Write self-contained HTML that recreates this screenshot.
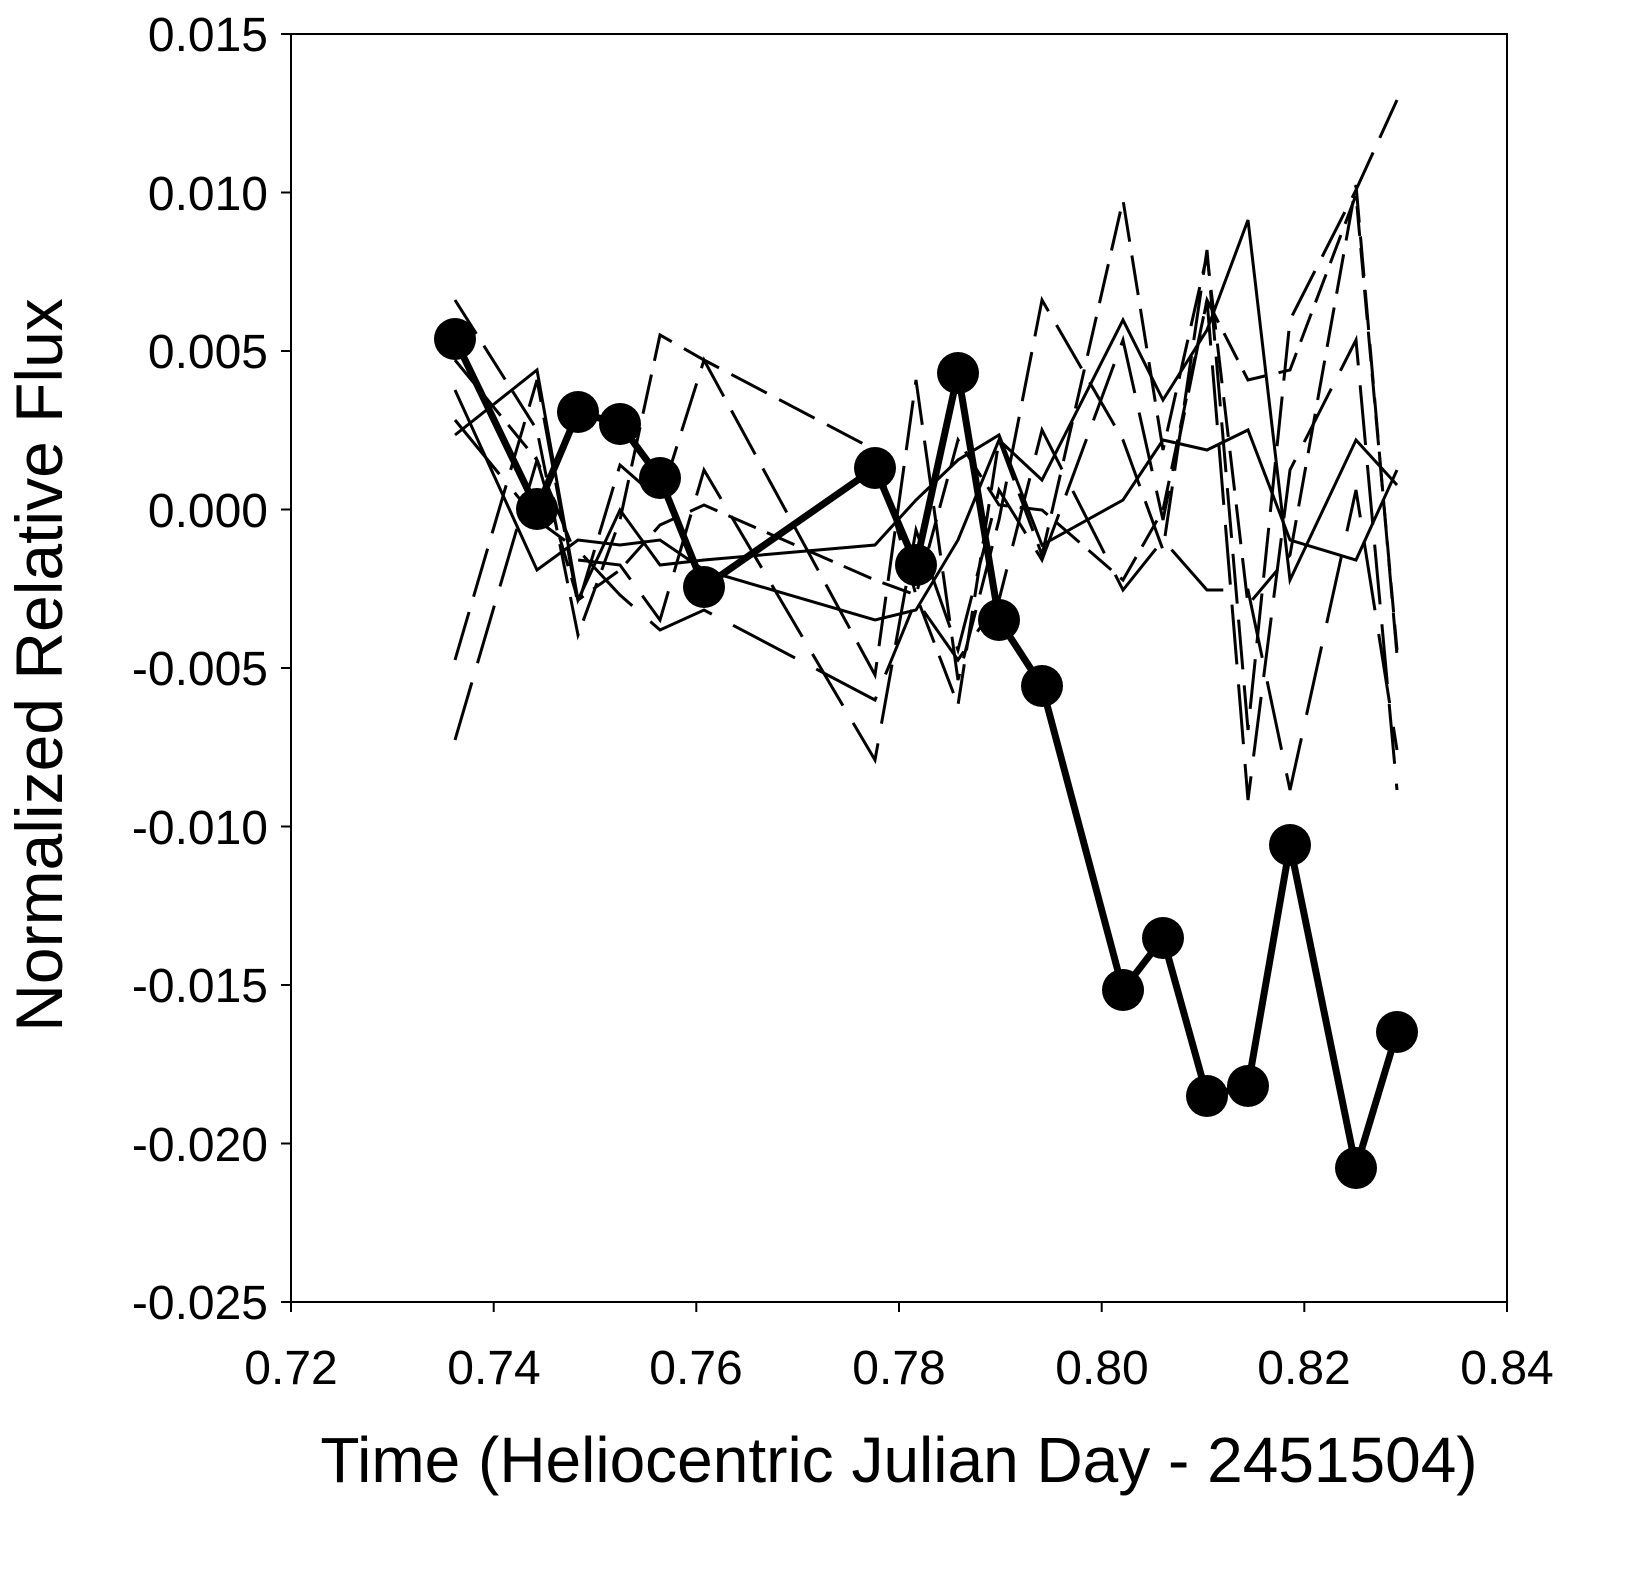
<!DOCTYPE html>
<html><head><style>
html,body{margin:0;padding:0;background:#fff;}
svg text{font-family:"Liberation Sans",sans-serif;fill:#000;}
</style></head><body>
<svg width="1634" height="1569" viewBox="0 0 1634 1569" xmlns="http://www.w3.org/2000/svg">
<rect x="291" y="34" width="1216" height="1268" fill="none" stroke="#000" stroke-width="2"/>
<g stroke="#000" stroke-width="2">
<line x1="281" y1="34" x2="291" y2="34"/><line x1="281" y1="192.5" x2="291" y2="192.5"/>
<line x1="281" y1="351" x2="291" y2="351"/><line x1="281" y1="509.5" x2="291" y2="509.5"/>
<line x1="281" y1="668" x2="291" y2="668"/><line x1="281" y1="826.5" x2="291" y2="826.5"/>
<line x1="281" y1="985" x2="291" y2="985"/><line x1="281" y1="1143.5" x2="291" y2="1143.5"/>
<line x1="281" y1="1302" x2="291" y2="1302"/>
<line x1="291" y1="1302" x2="291" y2="1312"/><line x1="493.7" y1="1302" x2="493.7" y2="1312"/>
<line x1="696.3" y1="1302" x2="696.3" y2="1312"/><line x1="899" y1="1302" x2="899" y2="1312"/>
<line x1="1101.7" y1="1302" x2="1101.7" y2="1312"/><line x1="1304.3" y1="1302" x2="1304.3" y2="1312"/>
<line x1="1507" y1="1302" x2="1507" y2="1312"/>
</g>
<g font-size="48" text-anchor="end">
<text x="268" y="51">0.015</text><text x="268" y="210">0.010</text>
<text x="268" y="368">0.005</text><text x="268" y="527">0.000</text>
<text x="268" y="685">-0.005</text><text x="268" y="844">-0.010</text>
<text x="268" y="1002">-0.015</text><text x="268" y="1161">-0.020</text>
<text x="268" y="1319">-0.025</text>
</g>
<g font-size="48" text-anchor="middle">
<text x="291" y="1384">0.72</text><text x="494" y="1384">0.74</text>
<text x="696" y="1384">0.76</text><text x="899" y="1384">0.78</text>
<text x="1102" y="1384">0.80</text><text x="1304" y="1384">0.82</text>
<text x="1507" y="1384">0.84</text>
</g>
<text x="899" y="1482" font-size="64" text-anchor="middle">Time (Heliocentric Julian Day - 2451504)</text>
<text transform="translate(62,665) rotate(-90)" font-size="66" text-anchor="middle">Normalized Relative Flux</text>
<g fill="none" stroke="#000" stroke-width="3">
<polyline stroke-dasharray="40,14" points="455,300 537,430 578,635 620,520 660,335 704,360 875,450 916,595 958,705 999,440 1042,555 1123,200 1163,450 1207,255 1248,605 1290,555 1356,185 1397,655"/>
<polyline stroke-dasharray="60,20" points="455,740 537,460 578,560 620,565 660,620 704,470 875,760 916,530 958,650 999,490 1042,560 1123,340 1163,520 1207,300 1248,800 1290,470 1356,340 1397,790"/>
<polyline stroke-dasharray="50,16" points="455,660 537,380 578,605 620,465 660,500 704,360 875,675 916,380 958,680 999,520 1042,300 1123,440 1163,550 1207,250 1248,730 1290,320 1356,190 1397,100"/>
<polyline points="455,435 537,370 578,600 620,510 660,565 704,560 875,545 916,500 958,460 999,435 1042,545 1123,500 1163,440 1207,450 1248,430 1290,540 1356,560 1397,470"/>
<polyline stroke-dasharray="30,12" points="455,360 537,460 578,600 620,570 660,525 704,505 875,580 916,595 958,440 999,505 1042,510 1123,580 1163,510 1207,300 1248,380 1290,370 1356,195 1397,650"/>
<polyline points="455,390 537,570 578,540 620,545 660,540 704,570 875,620 916,610 958,540 999,440 1042,480 1123,320 1163,400 1207,330 1248,220 1290,580 1356,440 1397,485"/>
<polyline stroke-dasharray="70,24" points="455,420 537,520 578,550 620,595 660,630 704,610 875,700 916,600 958,660 999,600 1042,430 1123,590 1163,540 1207,590 1248,590 1290,790 1356,490 1397,750"/>
</g>
<polyline fill="none" stroke="#000" stroke-width="7" stroke-linejoin="round" points="455,339 537,509 578,412 620,424 660,478 704,587 875,468 916,565 958,373 999,620 1042,686 1123,990 1163,938 1207,1096 1248,1086 1290,845 1356,1168 1397,1032"/>
<g fill="#000">
<circle cx="455" cy="339" r="21"/><circle cx="537" cy="509" r="21"/><circle cx="578" cy="412" r="21"/>
<circle cx="620" cy="424" r="21"/><circle cx="660" cy="478" r="21"/><circle cx="704" cy="587" r="21"/>
<circle cx="875" cy="468" r="21"/><circle cx="916" cy="565" r="21"/><circle cx="958" cy="373" r="21"/>
<circle cx="999" cy="620" r="21"/><circle cx="1042" cy="686" r="21"/><circle cx="1123" cy="990" r="21"/>
<circle cx="1163" cy="938" r="21"/><circle cx="1207" cy="1096" r="21"/><circle cx="1248" cy="1086" r="21"/>
<circle cx="1290" cy="845" r="21"/><circle cx="1356" cy="1168" r="21"/><circle cx="1397" cy="1032" r="21"/>
</g>
</svg>
</body></html>
